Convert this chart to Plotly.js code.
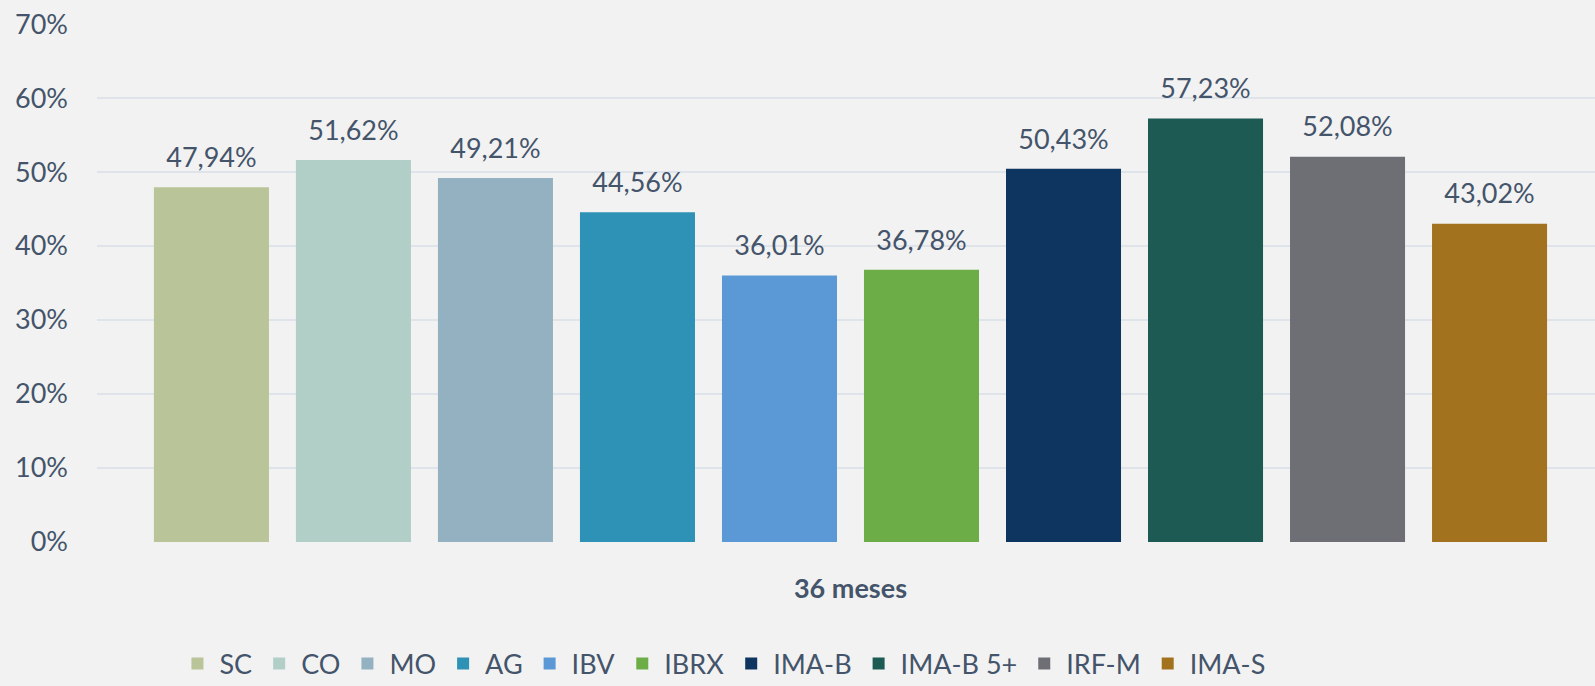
<!DOCTYPE html>
<html>
<head>
<meta charset="utf-8">
<script src="https://cdn.plot.ly/plotly-3.0.1.min.js"></script>
<style>
  html, body { margin: 0; padding: 0; background: #F2F2F2; }
  #chart { width: 1595px; height: 686px; }
</style>
</head>
<body>
<div id="chart"></div>
<script>
const categories = ['36 meses'];
const seriesNames = ['SC', 'CO', 'MO', 'AG', 'IBV', 'IBRX', 'IMA-B', 'IMA-B 5+', 'IRF-M', 'IMA-S'];
const seriesValues = [0.4794, 0.5162, 0.4921, 0.4456, 0.3601, 0.3678, 0.5043, 0.5723, 0.5208, 0.4302];
const seriesColors = ['#B9C498', '#B1CFC7', '#94B1C2', '#2E92B6', '#5B99D6', '#6DAD47', '#0E3460', '#1D5A53', '#6D6F74', '#A3721F'];
const yTickValues = [0, 0.1, 0.2, 0.3, 0.4, 0.5, 0.6, 0.7];

const textColor = '#44546A';
const fontFamily = 'Lato, "Open Sans", sans-serif';

const traces = [];
seriesNames.forEach((name, i) => {
  traces.push({
    type: 'bar',
    name: name,
    x: categories,
    y: [seriesValues[i]],
    offsetgroup: 'g' + i,
    marker: { color: seriesColors[i], line: { width: 0 } },
    hoverinfo: 'skip'
  });
});
seriesNames.forEach((name, i) => {
  traces.push({
    type: 'scatter',
    mode: 'markers+text',
    name: name + ' label',
    x: categories,
    y: [seriesValues[i]],
    offsetgroup: 'g' + i,
    texttemplate: '%{y:.2%}',
    textposition: 'top center',
    textfont: { family: fontFamily, size: 27, color: textColor },
    marker: { size: 20, opacity: 0 },
    showlegend: false,
    hoverinfo: 'skip',
    cliponaxis: false
  });
});

const layout = {
  width: 1595,
  height: 686,
  paper_bgcolor: '#F2F2F2',
  plot_bgcolor: '#F2F2F2',
  separators: ',.',
  margin: { l: 97, r: 0, t: 24, b: 144 },
  barmode: 'group',
  bargap: 0.052,
  bargroupgap: 0.19,
  scattermode: 'group',
  scattergap: 0.052,
  showlegend: true,
  legend: {
    orientation: 'h',
    xref: 'container',
    yref: 'container',
    x: 0.11,
    xanchor: 'left',
    y: 0.032,
    yanchor: 'middle',
    itemwidth: 34,
    font: { family: fontFamily, size: 27, color: textColor },
    bgcolor: 'rgba(0,0,0,0)',
    traceorder: 'normal'
  },
  xaxis: {
    type: 'category',
    range: [-0.503, 0.497],
    showgrid: false,
    zeroline: false,
    showline: false,
    ticks: '',
    ticklabelstandoff: 28,
    tickfont: { family: fontFamily, size: 27, color: textColor, weight: 'bold' },
    fixedrange: true
  },
  yaxis: {
    range: [0, 0.7001],
    tickvals: yTickValues,
    tickformat: '.0%',
    showgrid: true,
    gridcolor: '#DFE4EA',
    gridwidth: 2,
    zeroline: false,
    showline: false,
    ticks: '',
    ticklabelstandoff: 28,
    tickfont: { family: fontFamily, size: 27, color: textColor },
    fixedrange: true
  },
  font: { family: fontFamily, color: textColor }
};

Plotly.newPlot('chart', traces, layout, { displayModeBar: false, staticPlot: true });
</script>
</body>
</html>
